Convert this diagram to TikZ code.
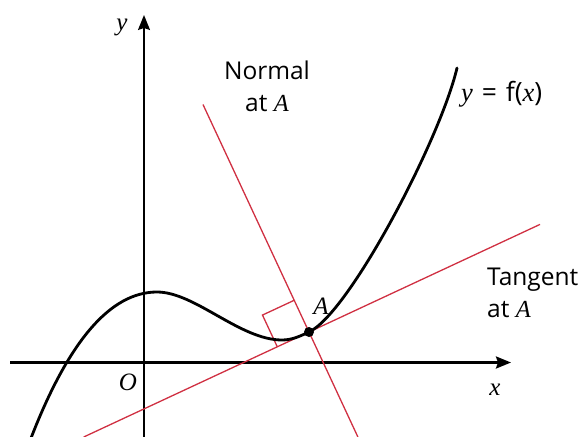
\documentclass[tikz,border=0pt]{standalone}
\usepackage{fontspec}
\setmainfont{Open Sans}
\newfontfamily\serifit{Liberation Serif}
\usetikzlibrary{arrows.meta,calc}
\newcommand{\mv}[1]{{\serifit\itshape #1}}
\definecolor{nred}{RGB}{208,48,66}
\begin{document}
\begin{tikzpicture}[x=1pt,y=-1pt,
  axisline/.style={-{Stealth[length=15pt,width=12pt,inset=2pt]}},
  redline/.style={nred,line width=1.3pt},
  curveline/.style={line width=2.8pt,line cap=round},
  lbl/.style={font=\fontsize{24.5}{32}\selectfont,inner sep=0pt},
  flbl/.style={font=\fontsize{26.5}{32}\selectfont,inner sep=0pt},
  mlbl/.style={font=\fontsize{25}{30}\selectfont,inner sep=0pt}]
\useasboundingbox (0,0) rectangle (582,437);
\clip (0,0) rectangle (582,437);
% axes
\coordinate (xs) at (10,362.5);
\coordinate (xe) at (511,362.5);
\coordinate (ys) at (144,440);
\coordinate (ye) at (144,15);
\draw[axisline,line width=2.4pt] (xs) -- (xe);
\draw[axisline,line width=1.5pt] (ys) -- (ye);
% point A, tangent and normal
\coordinate (A) at (309,332);
\coordinate (TL) at (83.7,437);
\coordinate (TR) at (540,224.4);
\coordinate (NT) at (203,104.5);
\coordinate (NB) at (357.9,437);
\draw[redline] (TL) -- (TR);
\draw[redline] (NT) -- (NB);
% right-angle mark
\coordinate (Pt) at ($(A)!35pt!(TL)$);
\coordinate (Pn) at ($(A)!35pt!(NT)$);
\coordinate (Pc) at ($(Pt)+(Pn)-(A)$);
\draw[redline] (Pt) -- (Pc) -- (Pn);
% curve y = f(x)
\coordinate (C0) at (28,446);
\coordinate (Cmax) at (157,292);
\coordinate (Cmin) at (282,340);
\coordinate (Ctop) at (457,68);
\draw[curveline] (C0) .. controls (67,342) and (110,292) .. (Cmax)
  .. controls (195,292) and (240,340) .. (Cmin)
  .. controls (292,340) and (300,336.2) .. (A)
  .. controls (349,313.4) and (440,140) .. (Ctop);
\fill (A) circle (5pt);
% labels
\node[mlbl] (ylab) at (122,27) {\mv{y}};
\node[mlbl] (Olab) at (128,382) {\mv{O}};
\node[mlbl] (xlab) at (495,390) {\mv{x}};
\node[mlbl] (Alab) at (321,306) {\mv{A}};
\node[flbl,anchor=west] (flab) at (461,94) {\mv{y}\,\,=\,\,f(\mv{x})};
\node[lbl,align=center] (nlab) at (267,86) {Normal\\at \mv{A}};
\node[lbl,align=left,anchor=west] (tlab) at (487,293) {Tangent\\at \mv{A}};
\end{tikzpicture}
\end{document}
